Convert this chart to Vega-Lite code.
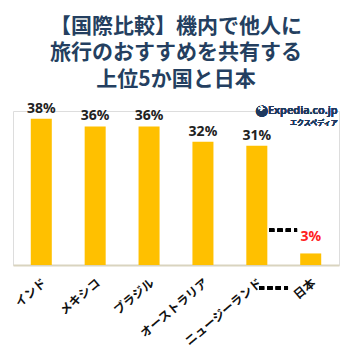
{
  "$schema": "https://vega.github.io/schema/vega-lite/v6.json",
  "width": 326,
  "height": 154,
  "padding": {"left": 12, "top": 15, "right": 5, "bottom": 5},
  "background": "#ffffff",
  "title": {
    "text": ["【国際比較】機内で他人に", "旅行のおすすめを共有する", "上位5か国と日本"],
    "font": "Noto Sans CJK JP",
    "fontSize": 21,
    "fontWeight": "bold",
    "color": "#243f60",
    "lineHeight": 26.5,
    "anchor": "middle",
    "offset": 12
  },
  "data": {
    "values": [
      {"country": "インド", "value": 38, "label": "38%"},
      {"country": "メキシコ", "value": 36, "label": "36%"},
      {"country": "ブラジル", "value": 36, "label": "36%"},
      {"country": "オーストラリア", "value": 32, "label": "32%"},
      {"country": "ニュージーランド", "value": 31, "label": "31%"},
      {"country": "日本", "value": 3, "label": "3%"}
    ]
  },
  "encoding": {
    "x": {
      "field": "country",
      "type": "nominal",
      "sort": null,
      "scale": {"paddingInner": 0.61, "paddingOuter": 0.33},
      "axis": {
        "title": null,
        "labelAngle": -40,
        "labelFont": "Noto Sans CJK JP",
        "labelFontSize": 12,
        "labelFontWeight": "bold",
        "labelColor": "#111111",
        "labelPadding": 12,
        "ticks": false,
        "domainColor": "#d9d4bf",
        "domainWidth": 2
      }
    }
  },
  "layer": [
    {
      "mark": {"type": "bar", "color": "#ffc000"},
      "encoding": {
        "y": {"field": "value", "type": "quantitative", "scale": {"domain": [0, 40], "nice": false}, "axis": null}
      }
    },
    {
      "transform": [{"filter": "datum.country !== '日本'"}],
      "mark": {"type": "text", "baseline": "bottom", "dy": -3, "font": "Noto Sans", "fontSize": 14, "fontWeight": "bold", "color": "#222222"},
      "encoding": {
        "y": {"field": "value", "type": "quantitative"},
        "text": {"field": "label"}
      }
    },
    {
      "transform": [{"filter": "datum.country === '日本'"}],
      "mark": {"type": "text", "baseline": "bottom", "dy": -9, "font": "Noto Sans", "fontSize": 14, "fontWeight": "bold", "color": "#ff2020"},
      "encoding": {
        "y": {"field": "value", "type": "quantitative"},
        "text": {"field": "label"}
      }
    },
    {
      "mark": {"type": "rule", "color": "#000000", "strokeWidth": 3.5, "strokeDash": [5, 3.3]},
      "encoding": {
        "x": {"datum": "ニュージーランド", "bandPosition": 1.09},
        "x2": {"datum": "日本", "bandPosition": -0.15},
        "y": {"datum": 9}
      }
    },
    {
      "mark": {"type": "rule", "color": "#000000", "strokeWidth": 3.5, "strokeDash": [5, 3.3]},
      "encoding": {
        "x": {"datum": "ニュージーランド", "bandPosition": 0.61},
        "x2": {"datum": "日本", "bandPosition": -0.58},
        "y": {"datum": -6}
      }
    },
    {
      "mark": {"type": "text", "align": "right", "baseline": "alphabetic", "dx": 27, "dy": 3, "font": "Open Sans", "fontSize": 11, "fontWeight": 600, "color": "#1f3a5f", "text": "Expedia.co.jp"},
      "encoding": {
        "x": {"datum": "日本"},
        "y": {"datum": 40}
      }
    },
    {
      "mark": {"type": "text", "align": "right", "baseline": "alphabetic", "dx": 27, "dy": 14, "font": "Noto Sans CJK JP", "fontSize": 7, "fontWeight": "bold", "color": "#1f3a5f", "text": "エクスペディア"},
      "encoding": {
        "x": {"datum": "日本"},
        "y": {"datum": 40}
      }
    },
    {
      "mark": {"type": "text", "align": "center", "baseline": "middle", "dx": -49, "dy": -1.5, "font": "DejaVu Sans", "fontSize": 15, "color": "#1f3a5f", "text": "●"},
      "encoding": {
        "x": {"datum": "日本"},
        "y": {"datum": 40}
      }
    },
    {
      "mark": {"type": "text", "align": "center", "baseline": "middle", "dx": -49, "dy": -2, "font": "DejaVu Sans", "fontSize": 8, "color": "#ffffff", "text": "✈"},
      "encoding": {
        "x": {"datum": "日本"},
        "y": {"datum": 40}
      }
    }
  ]
}
